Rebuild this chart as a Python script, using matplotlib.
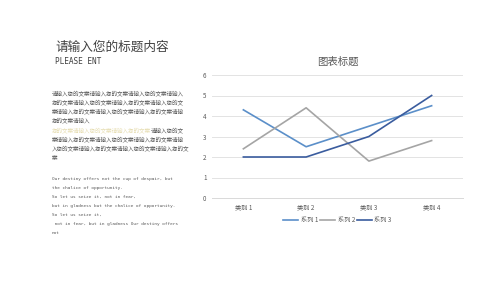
import matplotlib.pyplot as plt

plt.rcParams['font.family'] = ['Noto Sans CJK SC', 'DejaVu Sans']

categories = ['类别 1', '类别 2', '类别 3', '类别 4']
series_names = ['系列 1', '系列 2', '系列 3']
series1 = [4.3, 2.5, 3.5, 4.5]
series2 = [2.4, 4.4, 1.8, 2.8]
series3 = [2.0, 2.0, 3.0, 5.0]
yticks = [0, 1, 2, 3, 4, 5, 6]

cn_lines = [
    '请输入您的文案请输入您的文案请输入您的文案请输入',
    '您的文案请输入您的文案请输入您的文案请输入您的文',
    '案请输入您的文案请输入您的文案请输入您的文案请输',
    '您的文案请输入',
]
cn_hl = '您的文案请输入您的文案请输入您的文案'
cn_hl_rest = '请输入您的文'
cn_lines2 = [
    '案请输入您的文案请输入您的文案请输入您的文案请输',
    '入您的文案请输入您的文案请输入您的文案请输入您的文',
    '案',
]
en_lines = [
    'Our destiny offers not the cup of despair, but',
    'the chalice of opportunity.',
    'So let us seize it, not in fear,',
    'but in gladness but the chalice of opportunity.',
    'So let us seize it,',
    ' not in fear, but in gladness Our destiny offers',
    'not',
]

fig = plt.figure(figsize=(5, 2.81), dpi=100)
W, H = 500, 281

def fx(x):
    return x / W

def fy(y):
    return 1 - y / H

txt = '#595959'
fig.text(fx(55), fy(47), '请输入您的标题内容', fontsize=9.1, color='#404040', va='center')
fig.text(fx(55), fy(62), 'PLEASE ENT', fontsize=5.6, color='#404040', va='center',
         family=['DejaVu Sans Mono'])

y = 93
for line in cn_lines:
    fig.text(fx(52), fy(y), line, fontsize=4, color=txt, va='center')
    y += 9.3
t = fig.text(fx(52), fy(y), cn_hl, fontsize=4, color='#E6DDB2', va='center')
fig.canvas.draw()
bb = t.get_window_extent()
fig.text(bb.x1 / W, fy(y), cn_hl_rest, fontsize=4, color=txt, va='center')
y += 9.3
for line in cn_lines2:
    fig.text(fx(52), fy(y), line, fontsize=4, color=txt, va='center')
    y += 9.3

y = 179
for line in en_lines:
    fig.text(fx(52), fy(y), line, fontsize=3.15, color=txt, va='center',
             family=['DejaVu Sans Mono'])
    y += 9

ax = fig.add_axes([fx(212), fy(198), fx(463) - fx(212), fy(75) - fy(198)])
x = range(len(categories))
ax.plot(x, series1, color='#5B8FC9', lw=1.2, label=series_names[0])
ax.plot(x, series2, color='#A5A5A5', lw=1.2, label=series_names[1])
ax.plot(x, series3, color='#3A5C9E', lw=1.2, label=series_names[2])
ax.set_xlim(-0.5, 3.5)
ax.set_ylim(0, 6)
ax.set_yticks(yticks)
ax.set_xticks(list(x))
ax.set_xticklabels(categories)
ax.grid(axis='y', color='#E3E3E3', lw=0.7)
ax.set_axisbelow(True)
for s in ax.spines.values():
    s.set_visible(False)
ax.spines['bottom'].set_visible(True)
ax.spines['bottom'].set_color('#D9D9D9')
ax.spines['bottom'].set_linewidth(0.7)
ax.tick_params(length=0, labelsize=4.5, labelcolor='#595959', pad=4)
ax.set_title('图表标题', fontsize=7.5, color='#595959', pad=7)
ax.legend(loc='upper center', bbox_to_anchor=(0.5, -0.1), ncol=3, frameon=False,
          fontsize=4.5, labelcolor='#595959', handlelength=2.4, columnspacing=0.3,
          handletextpad=0.4)

fig.savefig('out.png', dpi=100)
